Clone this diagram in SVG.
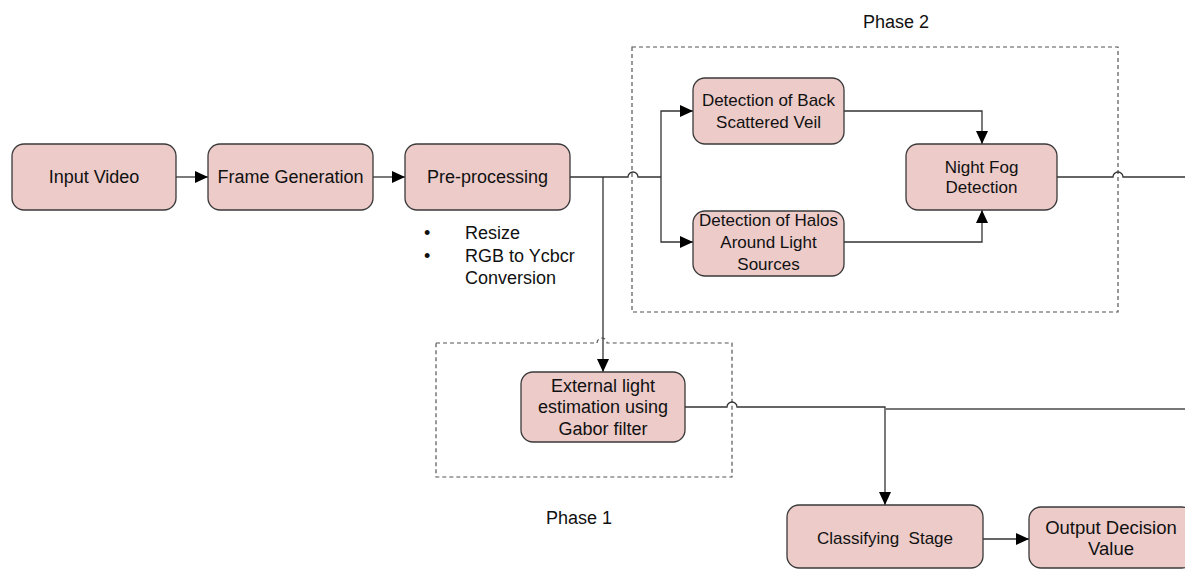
<svg xmlns="http://www.w3.org/2000/svg" width="1185" height="570" viewBox="0 0 1185 570">
<defs>
<marker id="ah" viewBox="0 0 13 12" refX="13" refY="6" markerWidth="13" markerHeight="12" markerUnits="userSpaceOnUse" orient="auto">
<path d="M0,0 L13,6 L0,12 Z" fill="#000"/>
</marker>
<style>
.box{fill:#eccbc9;stroke:#3a3a3a;stroke-width:1.3}
text{font-family:"Liberation Sans",Arial,sans-serif;font-size:18px;fill:#111;white-space:pre}
.c{text-anchor:middle}
.s17{font-size:17px}
.ln{fill:none;stroke:#333;stroke-width:1.3}
.lg{fill:none;stroke:#777;stroke-width:2}
.ar{marker-end:url(#ah)}
.dash{fill:none;stroke:#555;stroke-width:1.2;stroke-dasharray:4,3}
</style>
</defs>
<rect width="1185" height="570" fill="#fff"/>
<g id="phase2">
<rect class="dash" x="632" y="47" width="486" height="265"/>
<text class="c" x="896" y="28">Phase 2</text>
</g>
<g id="phase1">
<path class="dash" d="M436,343 H597 A5,5 0 0 1 607,343 H732 V477 H436 Z"/>
<text class="c" x="579" y="524">Phase 1</text>
</g>
<g id="connectors">
<path class="ln ar" d="M176,177 H208"/>
<path class="ln ar" d="M373,177 H405"/>
<path class="ln" d="M570,177 H628 A5,5 0 0 1 638,177 H661"/>
<path class="ln ar" d="M661,177 V111 H693"/>
<path class="ln ar" d="M661,177 V242 H693"/>
<path class="ln ar" d="M603,177 V372"/>
<path class="ln ar" d="M844,111 H982 V144"/>
<path class="ln ar" d="M844,242 H982 V210"/>
<path class="ln" d="M1057,177 H1113 A5,5 0 0 1 1123,177 H1185"/>
<path class="ln ar" d="M685,407 H727 A5,5 0 0 1 737,407 H885 V505"/>
<path class="lg" d="M885,409 H1185"/>
<path class="ln ar" d="M983,539 H1029"/>
</g>
<g id="input-video">
<rect class="box" x="12" y="144" width="164" height="66" rx="12"/>
<text class="c" x="94" y="183">Input Video</text>
</g>
<g id="frame-generation">
<rect class="box" x="208" y="144" width="165" height="66" rx="12"/>
<text class="c" x="290.5" y="183">Frame Generation</text>
</g>
<g id="pre-processing">
<rect class="box" x="405" y="144" width="165" height="66" rx="12"/>
<text class="c" x="487.5" y="183">Pre-processing</text>
</g>
<g id="bullets">
<text x="424" y="239">•</text>
<text x="465" y="239">Resize</text>
<text x="424" y="262">•</text>
<text x="465" y="262">RGB to Ycbcr</text>
<text x="465" y="284">Conversion</text>
</g>
<g id="back-scattered">
<rect class="box" x="693" y="78" width="151" height="66" rx="12"/>
<text class="c s17" x="768.5" y="106">Detection of Back</text>
<text class="c s17" x="768.5" y="128">Scattered Veil</text>
</g>
<g id="halos">
<rect class="box" x="693" y="211" width="151" height="65" rx="12"/>
<text class="c s17" x="768.5" y="226">Detection of Halos</text>
<text class="c s17" x="768.5" y="248">Around Light</text>
<text class="c s17" x="768.5" y="270">Sources</text>
</g>
<g id="night-fog">
<rect class="box" x="906" y="144" width="151" height="66" rx="12"/>
<text class="c s17" x="981.5" y="173">Night Fog</text>
<text class="c s17" x="981.5" y="193">Detection</text>
</g>
<g id="external-light">
<rect class="box" x="521" y="372" width="164" height="70" rx="12"/>
<text class="c" x="603" y="392">External light</text>
<text class="c" x="603" y="413">estimation using</text>
<text class="c" x="603" y="435">Gabor filter</text>
</g>
<g id="classifying">
<rect class="box" x="787" y="505" width="196" height="63" rx="12"/>
<text class="c s17" x="885" y="544">Classifying  Stage</text>
</g>
<g id="output-decision">
<rect class="box" x="1029" y="507" width="165" height="61" rx="12"/>
<text class="c" x="1111" y="534" style="font-size:18.5px">Output Decision</text>
<text class="c" x="1111" y="555" style="font-size:18.5px">Value</text>
</g>
</svg>
